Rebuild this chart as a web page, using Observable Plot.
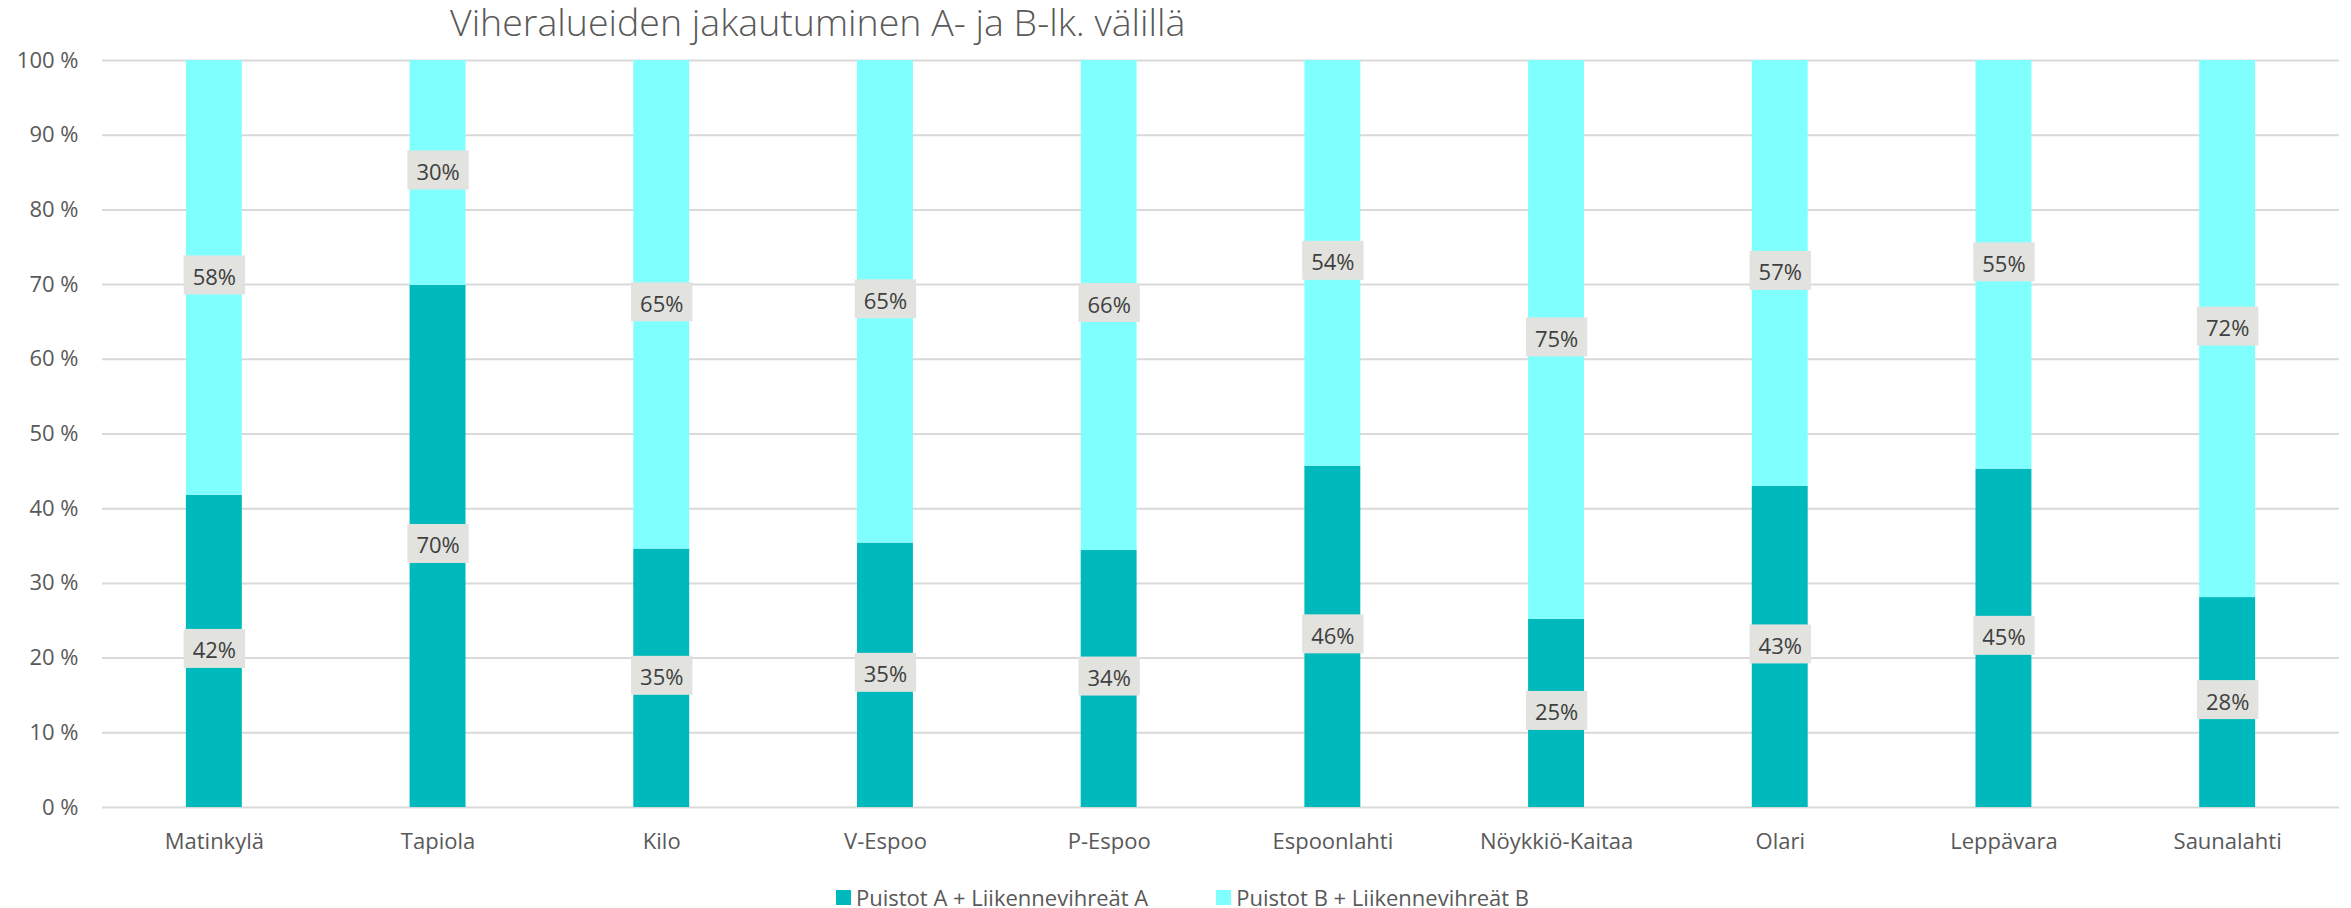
<!DOCTYPE html>
<html>
<head>
<meta charset="utf-8">
<script src="https://cdn.jsdelivr.net/npm/d3@7"></script>
<script src="https://cdn.jsdelivr.net/npm/@observablehq/plot@0.6"></script>
<style>
  body { margin: 0; background: #fff; font-family: "Open Sans", sans-serif; }
  #title { height: 40px; line-height: 40px; padding-left: 450px; padding-top: 2px; box-sizing: border-box; font-size: 37.5px; color: #595959; font-weight: 300; white-space: nowrap; }
  #legend { height: 40px; box-sizing: border-box; padding-top: 18px; padding-left: 836px; display: flex; align-items: center; gap: 68px; font-size: 22px; color: #595959; line-height: 22px; white-space: nowrap; }
  .item { display: flex; align-items: center; gap: 5px; }
  .sw { width: 15px; height: 15px; display: inline-block; }
</style>
</head>
<body>
<div id="title">Viheralueiden jakautuminen A- ja B-lk. välillä</div>
<div id="chart"></div>
<div id="legend"></div>
<script>
const categories = ["Matinkylä", "Tapiola", "Kilo", "V-Espoo", "P-Espoo", "Espoonlahti", "Nöykkiö-Kaitaa", "Olari", "Leppävara", "Saunalahti"];
const seriesNames = ["Puistot A + Liikennevihreät A", "Puistot B + Liikennevihreät B"];
const valuesA = [41.8, 69.9, 34.6, 35.4, 34.4, 45.7, 25.2, 43.0, 45.3, 28.1];
const valuesB = [58.2, 30.1, 65.4, 64.6, 65.6, 54.3, 74.8, 57.0, 54.7, 71.9];
const colors = ["#00B9BC", "#80FFFF"];
const yTicks = [0, 10, 20, 30, 40, 50, 60, 70, 80, 90, 100];

const rows = [];
categories.forEach((c, i) => rows.push({category: c, series: seriesNames[0], value: valuesA[i]}));
categories.forEach((c, i) => rows.push({category: c, series: seriesNames[1], value: valuesB[i]}));

const chart = Plot.plot({
  width: 2351,
  height: 828,
  marginTop: 20,
  marginBottom: 61,
  marginLeft: 102,
  marginRight: 12,
  style: {fontFamily: "Open Sans, sans-serif", fontSize: "22px", color: "#595959", background: "#fff", overflow: "visible"},
  x: {domain: categories, paddingInner: 0.75, paddingOuter: 0.375, round: false, label: null, tickSize: 0, tickPadding: 26},
  y: {domain: [0, 100], ticks: yTicks, tickFormat: d => d + " %", label: null, tickSize: 0, tickPadding: 24},
  color: {domain: seriesNames, range: colors},
  marks: [
    Plot.ruleY(yTicks, {stroke: "#D9D9D9", strokeWidth: 2}),
    Plot.barY(rows, {x: "category", y: "value", fill: "series"}),
    Plot.text(rows, Plot.stackY({
      x: "category", y: "value",
      text: d => Math.round(d.value) + "%",
      fill: "#404040", fontSize: 22,
      ariaLabel: "bar-label"
    }))
  ]
});
document.getElementById("chart").appendChild(chart);

// label boxes behind the data labels (positions taken from the rendered texts)
let labelGroup = chart.querySelector('g[aria-label="bar-label"]');
if (!labelGroup) {
  const gs = chart.querySelectorAll('g[aria-label="text"]');
  labelGroup = gs[gs.length - 1];
}
if (labelGroup) {
  const svgRect = chart.getBoundingClientRect();
  const boxG = document.createElementNS("http://www.w3.org/2000/svg", "g");
  labelGroup.parentNode.insertBefore(boxG, labelGroup);
  labelGroup.querySelectorAll("text").forEach(t => {
    const b = t.getBoundingClientRect();
    const cx = b.left - svgRect.left + b.width / 2;
    const cy = b.top - svgRect.top + b.height / 2 - 1;
    const w = b.width + 18, h = 39;
    const r = document.createElementNS("http://www.w3.org/2000/svg", "rect");
    r.setAttribute("x", cx - w / 2);
    r.setAttribute("y", cy - h / 2);
    r.setAttribute("width", w);
    r.setAttribute("height", h);
    r.setAttribute("fill", "#E2E3DE");
    boxG.appendChild(r);
  });
}

// legend
const legend = document.getElementById("legend");
seriesNames.forEach((s, i) => {
  const item = document.createElement("span");
  item.className = "item";
  const sw = document.createElement("span");
  sw.className = "sw";
  sw.style.background = colors[i];
  const tx = document.createElement("span");
  tx.textContent = s;
  item.appendChild(sw);
  item.appendChild(tx);
  legend.appendChild(item);
});
</script>
</body>
</html>
